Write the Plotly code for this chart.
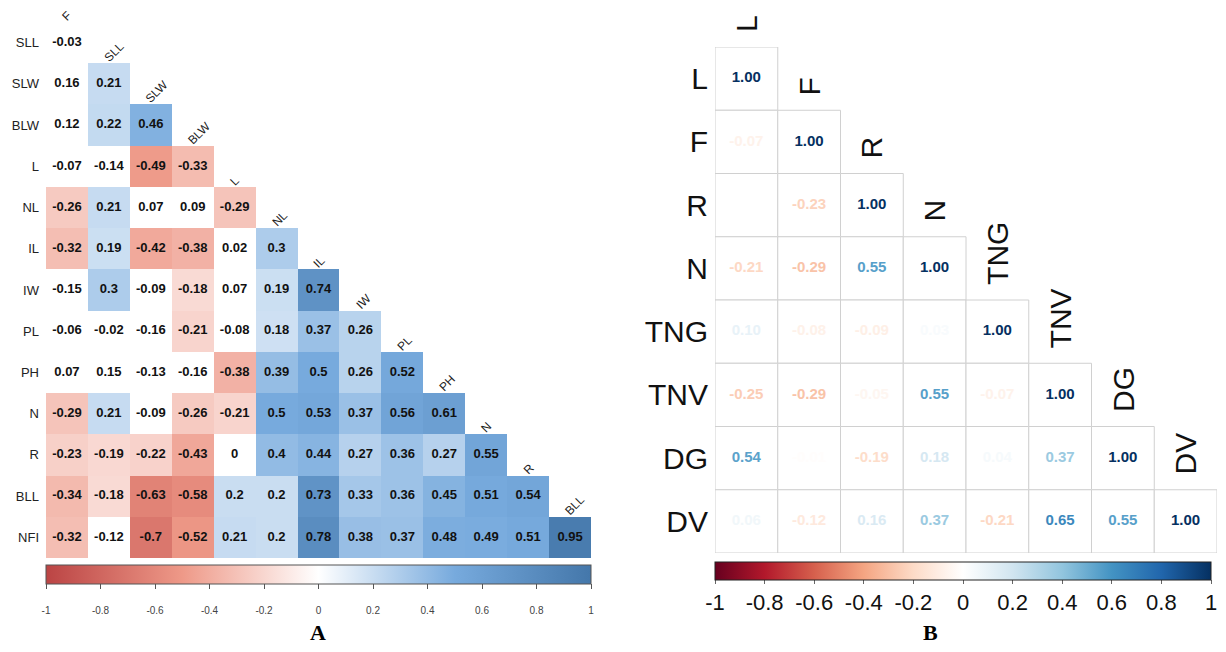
import numpy as np
import plotly.graph_objects as go
from plotly.colors import sample_colorscale

# page has an 8px body margin; keep the figure inside the window
OFF = 8
W, H = 1226 - 2 * OFF, 652 - 2 * OFF


def px(s):
    return (s - OFF) / W


def py(s):
    return 1 - (s - OFF) / H


# ---------- panel A data ----------
a_rows = ["SLL", "SLW", "BLW", "L", "NL", "IL", "IW", "PL", "PH", "N", "R", "BLL", "NFI"]
a_cols = ["F", "SLL", "SLW", "BLW", "L", "NL", "IL", "IW", "PL", "PH", "N", "R", "BLL"]
a_vals = [
    [-0.03],
    [0.16, 0.21],
    [0.12, 0.22, 0.46],
    [-0.07, -0.14, -0.49, -0.33],
    [-0.26, 0.21, 0.07, 0.09, -0.29],
    [-0.32, 0.19, -0.42, -0.38, 0.02, 0.3],
    [-0.15, 0.3, -0.09, -0.18, 0.07, 0.19, 0.74],
    [-0.06, -0.02, -0.16, -0.21, -0.08, 0.18, 0.37, 0.26],
    [0.07, 0.15, -0.13, -0.16, -0.38, 0.39, 0.5, 0.26, 0.52],
    [-0.29, 0.21, -0.09, -0.26, -0.21, 0.5, 0.53, 0.37, 0.56, 0.61],
    [-0.23, -0.19, -0.22, -0.43, 0, 0.4, 0.44, 0.27, 0.36, 0.27, 0.55],
    [-0.34, -0.18, -0.63, -0.58, 0.2, 0.2, 0.73, 0.33, 0.36, 0.45, 0.51, 0.54],
    [-0.32, -0.12, -0.7, -0.52, 0.21, 0.2, 0.78, 0.38, 0.37, 0.48, 0.49, 0.51, 0.95],
]
a_sig = 0.17  # cells below this |r| are left blank

# ---------- panel B data ----------
b_vars = ["L", "F", "R", "N", "TNG", "TNV", "DG", "DV"]
b_vals = [
    [1.00],
    [-0.07, 1.00],
    [0.00, -0.23, 1.00],
    [-0.21, -0.29, 0.55, 1.00],
    [0.10, -0.08, -0.09, 0.03, 1.00],
    [-0.25, -0.29, -0.05, 0.55, -0.07, 1.00],
    [0.54, -0.01, -0.19, 0.18, 0.04, 0.37, 1.00],
    [0.06, -0.12, 0.16, 0.37, -0.21, 0.65, 0.55, 1.00],
]

cbar_ticks = [-1, -0.8, -0.6, -0.4, -0.2, 0, 0.2, 0.4, 0.6, 0.8, 1]
cbar_text = ["-1", "-0.8", "-0.6", "-0.4", "-0.2", "0", "0.2", "0.4", "0.6", "0.8", "1"]

scale_a = [[0, "#BB4444"], [0.25, "#EE9988"], [0.5, "#FFFFFF"], [0.75, "#77AADD"], [1, "#4477AA"]]
rdbu = ["#67001F", "#B2182B", "#D6604D", "#F4A582", "#FDDBC7", "#FFFFFF",
        "#D1E5F0", "#92C5DE", "#4393C3", "#2166AC", "#053061"]
scale_b = [[i / 10, c] for i, c in enumerate(rdbu)]

fig = go.Figure()

# panel A heatmap
na = len(a_rows)
z = np.full((na, na), np.nan)
for i, row in enumerate(a_vals):
    for j, v in enumerate(row):
        if abs(v) >= a_sig:
            z[i, j] = v
fig.add_trace(go.Heatmap(
    z=z, x=list(range(na)), y=list(range(na)), colorscale=scale_a, zmin=-1, zmax=1,
    hoverongaps=False, xaxis="x", yaxis="y",
    colorbar=dict(orientation="h", x=px(318.5), xanchor="center", y=py(565), yanchor="top",
                  len=545, lenmode="pixels", thickness=19, xpad=0, ypad=0,
                  outlinecolor="#555", outlinewidth=1, ticks="outside", ticklen=5, tickcolor="#555",
                  tickvals=cbar_ticks, ticktext=["<br>" + t for t in cbar_text],
                  tickfont=dict(family="Liberation Sans", size=10, color="#444")),
))

ax, ay, at = [], [], []
for i, row in enumerate(a_vals):
    for j, v in enumerate(row):
        ax.append(j); ay.append(i); at.append(f"{v:g}")
fig.add_trace(go.Scatter(
    x=ax, y=ay, text=at, mode="text", xaxis="x", yaxis="y", hoverinfo="skip",
    textfont=dict(family="Liberation Sans", size=13, color="#111", weight="bold"),
))

for j, c in enumerate(a_cols):
    fig.add_annotation(x=j - 0.25, y=j - 0.5, xref="x", yref="y", text=c, showarrow=False,
                       textangle=-45, xanchor="left", yanchor="bottom", yshift=-4,
                       font=dict(family="Liberation Sans", size=12, color="#222"))

# panel B
nb = len(b_vars)
bx, by, bt, bv = [], [], [], []
for i, row in enumerate(b_vals):
    for j, v in enumerate(row):
        bx.append(j); by.append(i); bt.append(f"{v:.2f}"); bv.append(v)
        fig.add_shape(type="rect", xref="x2", yref="y2", x0=j - 0.5, x1=j + 0.5,
                      y0=i - 0.5, y1=i + 0.5, line=dict(color="#d0d0d0", width=1),
                      fillcolor="white", layer="below")
bcols = sample_colorscale(scale_b, [(v + 1) / 2 for v in bv])
fig.add_trace(go.Scatter(
    x=bx, y=by, text=bt, mode="markers+text", xaxis="x2", yaxis="y2", hoverinfo="skip",
    textfont=dict(family="Liberation Sans", size=15, color=bcols, weight="bold"),
    marker=dict(size=2, opacity=0, color=bv, colorscale=scale_b, cmin=-1, cmax=1, showscale=True,
                colorbar=dict(orientation="h", x=px(963), xanchor="center", y=py(562),
                              yanchor="top", len=496, lenmode="pixels", thickness=18,
                              xpad=0, ypad=0, outlinecolor="#222", outlinewidth=1,
                              ticks="outside", ticklen=4, tickcolor="#666",
                              tickvals=cbar_ticks, ticktext=cbar_text,
                              tickfont=dict(family="Liberation Sans", size=22, color="#111"))),
))

for j, c in enumerate(b_vars):
    fig.add_annotation(x=j, y=j - 0.5, xref="x2", yref="y2", text=c, showarrow=False,
                       textangle=-90, xanchor="center", yanchor="bottom", yshift=13,
                       font=dict(family="Liberation Sans", size=30, color="#111"))

fig.add_annotation(x=px(318), y=py(632), xref="paper", yref="paper", text="<b>A</b>",
                   showarrow=False, xanchor="center", yanchor="middle",
                   font=dict(family="Liberation Serif", size=22, color="black"))
fig.add_annotation(x=px(930), y=py(632), xref="paper", yref="paper", text="<b>B</b>",
                   showarrow=False, xanchor="center", yanchor="middle",
                   font=dict(family="Liberation Serif", size=22, color="black"))

fig.update_layout(
    width=W, height=H, margin=dict(l=0, r=0, t=0, b=0, autoexpand=False),
    paper_bgcolor="white", plot_bgcolor="white", showlegend=False,
    xaxis=dict(domain=[px(46), px(591)], range=[-0.5, na - 0.5], visible=False),
    yaxis=dict(domain=[py(558), py(22)], range=[na - 0.5, -0.5], showgrid=False,
               zeroline=False, tickvals=list(range(na)), ticktext=a_rows, ticks="",
               ticklabelstandoff=6, anchor="x", automargin=False,
               tickfont=dict(family="Liberation Sans", size=13, color="#222")),
    xaxis2=dict(domain=[px(715), px(1217)], range=[-0.5, nb - 0.5], visible=False, anchor="y2"),
    yaxis2=dict(domain=[py(553), py(47)], range=[nb - 0.5, -0.5], showgrid=False,
                zeroline=False, tickvals=list(range(nb)), ticktext=b_vars, ticks="",
                ticklabelstandoff=6, anchor="x2", automargin=False,
                tickfont=dict(family="Liberation Sans", size=30, color="#111")),
)

fig.write_html("out.html")
